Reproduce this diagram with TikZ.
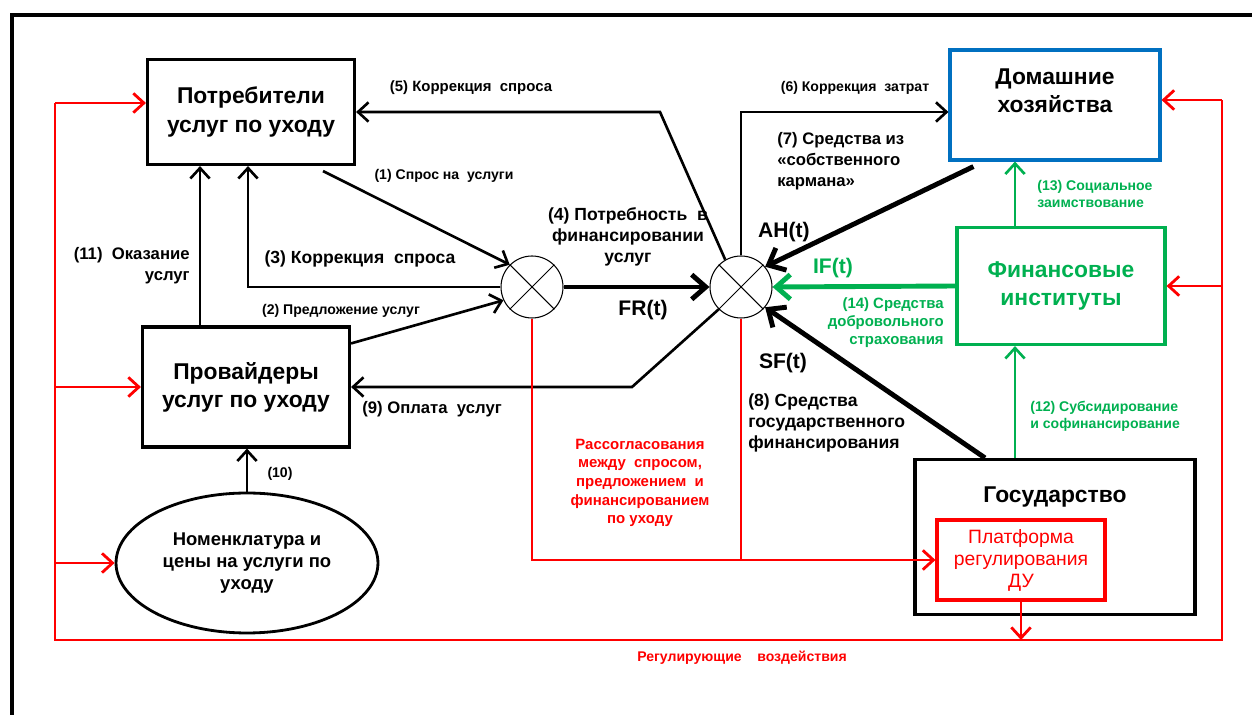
\documentclass[tikz,border=0pt]{standalone}
\usepackage{fontspec}
\setmainfont{Liberation Sans}
\usetikzlibrary{positioning,calc,shapes.geometric,arrows.meta}
\definecolor{boxblue}{HTML}{0070C0}
\definecolor{fingreen}{HTML}{00B050}
\definecolor{regred}{HTML}{FF0000}

\begin{document}
\begin{tikzpicture} [x=0.02cm,y=-0.02cm,>={Straight Barb[length=6pt,width=11pt]},]

\tikzstyle{box}=[draw,line width=1.8pt,align=center,inner sep=0pt,font=\fontsize{13}{16}\selectfont\bfseries]
\tikzstyle{summ}=[draw,circle,line width=0.6pt,minimum size=1.24cm,inner sep=0pt]
\tikzstyle{conn}=[line width=1.5pt]
\tikzstyle{thickconn}=[line width=2.8pt,>={Straight Barb[length=8pt,width=14pt]}]
\tikzstyle{greenconn}=[line width=1.5pt,fingreen]
\tikzstyle{redconn}=[line width=1.6pt,regred]
\tikzstyle{lbl}=[inner sep=0pt,align=center]
\tikzstyle{fa}=[font=\fontsize{8}{9.6}\selectfont\bfseries]
\tikzstyle{fb}=[font=\fontsize{8.5}{10.2}\selectfont\bfseries]
\tikzstyle{fc}=[font=\fontsize{9.5}{12}\selectfont\bfseries]
\tikzstyle{fd}=[font=\fontsize{10}{12}\selectfont\bfseries]
\tikzstyle{fe}=[font=\fontsize{12}{14}\selectfont\bfseries]

\useasboundingbox (0,0) rectangle (1252,715);
\draw [line width=2.2pt] (1252,15) -- (12,15) -- (12,715);

% blocks
\node (cons) [box,minimum width=4.14cm,minimum height=2.1cm] at (251,112) {Потребители\\услуг по уходу};
\node (prov) [box,minimum width=4.14cm,minimum height=2.4cm] at (246,387) {Провайдеры\\услуг по уходу};
\node (nom) [draw,ellipse,line width=1.6pt,minimum width=5.24cm,minimum height=2.8cm,inner sep=0pt,align=center,font=\fontsize{10.5}{12.5}\selectfont\bfseries] at (247,563) {Номенклатура и\\цены на услуги по\\уходу};
\node (home) [box,draw=boxblue,minimum width=4.2cm,minimum height=2.2cm] at (1055,105) {};
\node (hometxt) [lbl,font=\fontsize{13}{16}\selectfont\bfseries] at (1055,91) {Домашние\\хозяйства};
\node (fin) [box,draw=fingreen,text=fingreen,minimum width=4.16cm,minimum height=2.34cm] at (1061,286) {Финансовые\\институты};
\node (gov) [box,minimum width=5.6cm,minimum height=3.1cm] at (1055,537) {};
\node (govtxt) [lbl,font=\fontsize{13}{16}\selectfont\bfseries] at (1055,497) {Государство};
\node (plat) [box,draw=regred,text=regred,minimum width=3.36cm,minimum height=1.6cm,font=\fontsize{11}{12.5}\selectfont] at (1021,560) {Платформа\\регулирования\\ДУ};

% summators
\node (s1) [summ] at (532,287) {};
\node (s2) [summ] at (741,287) {};
\foreach \s in {s1,s2} {
  \draw [line width=0.6pt] (\s.45) -- (\s.225) (\s.135) -- (\s.315);
}

% flows
\draw [conn,->] ([xshift=-0.66cm,yshift=-0.1cm]cons.south east) -- (s1.135);
\draw [conn,->] (s1.west) -| ([xshift=-0.06cm]cons.south);
\draw [conn,->] ([xshift=-0.92cm]prov.north) coordinate (p11) -- (p11 |- cons.south);
\draw [conn,->] ([yshift=-0.36cm]prov.north east) -- (s1.205);
\draw [thickconn,->] (s1.east) -- (s2.west);
\coordinate (k5) at (660,112);
\draw [conn,->] (s2.120) -- (k5) -- (cons.east);
\draw [conn,->] (s2.north) |- ([yshift=-0.14cm]home.west);
\draw [thickconn,->] ([xshift=0.5cm,yshift=-0.1cm]home.south west) -- (s2.40);
\draw [thickconn,fingreen,->] (fin.west) -- (s2.east);
\draw [thickconn,->] ([xshift=-1.4cm]gov.north) -- (s2.-40);
\coordinate (k9) at (632,387);
\draw [conn,->] (s2.225) -- (k9) -- (prov.east);
\draw [conn,->] (nom.north) -- (nom.north |- prov.south);
\draw [greenconn,->] ([xshift=-0.8cm]gov.north) coordinate (g12) -- (g12 |- fin.south);
\draw [greenconn,->] ([xshift=-0.92cm]fin.north) coordinate (f13) -- (f13 |- home.south);

% regulation loop
\draw [redconn,->] (s1.south) |- (plat.west);
\draw [redconn] (s2.south) -- (s2.south |- plat.west);
\coordinate (lt) at (55,103);
\coordinate (lb) at (55,640);
\coordinate (rb) at (1222,640);
\coordinate (rt) at (1222,100);
\draw [redconn] (lt) -- (lb) -- (rb) -- (rt);
\draw [redconn,->] (lt) -- (lt -| cons.west);
\draw [redconn,->] (prov.west -| lb) -- (prov.west);
\draw [redconn,->] (nom.west -| lb) -- (nom.west);
\draw [redconn,->] (rt) -- (rt -| home.east);
\draw [redconn,->] (fin.east -| rt) -- (fin.east);
\draw [redconn,->] (plat.south) -- (plat.south |- rb);

% labels
\node (l1) [lbl,fa] at (444,176) {(1) Спрос на~ услуги};
\node (l2) [lbl,fa] at (341,311) {(2) Предложение услуг};
\node (l3) [lbl,fd] at (360,259) {(3) Коррекция~ спроса};
\node (l4) [lbl,fd] at (628,237) {(4) Потребность~ в\\финансировании\\услуг};
\node (lfr) [lbl,fe] at (643,310) {FR(t)};
\node (l5) [lbl,fb] at (471,88) {(5) Коррекция~ спроса};
\node (l6) [lbl,fa] at (855,88) {(6) Коррекция~ затрат};
\node (l7) [lbl,fc,align=left,anchor=west] at (777,161) {(7) Средства из\\«собственного\\кармана»};
\node (lah) [lbl,fe] at (784,232) {AH(t)};
\node (lif) [lbl,fe,text=fingreen] at (833,268) {IF(t)};
\node (l14) [lbl,fb,align=right,anchor=east,text=fingreen] at (944,323) {(14) Средства\\добровольного\\страхования};
\node (lsf) [lbl,fe] at (783,363) {SF(t)};
\node (l8) [lbl,fd,align=left,anchor=west] at (748,423) {(8) Средства\\государственного\\финансирования};
\node (l9) [lbl,fc] at (432,409) {(9) Оплата~ услуг};
\node (l10) [lbl,fa] at (280,474) {(10)};
\node (l11) [lbl,fc,align=right,anchor=east] at (190,266) {(11)~ Оказание\\услуг};
\node (l12) [lbl,fa,align=left,anchor=west,text=fingreen] at (1030,416) {(12) Субсидирование\\и софинансирование};
\node (l13) [lbl,fa,align=left,anchor=west,text=fingreen] at (1037,194) {(13) Социальное\\заимствование};
\node (lmis) [lbl,text=regred,font=\fontsize{8.5}{10.6}\selectfont\bfseries] at (640,483) {Рассогласования\\между~ спросом,\\предложением~ и\\финансированием\\по уходу};
\node (lreg) [lbl,fa,text=regred] at (742,658) {Регулирующие~~~ воздействия};

\end{tikzpicture}
\end{document}
